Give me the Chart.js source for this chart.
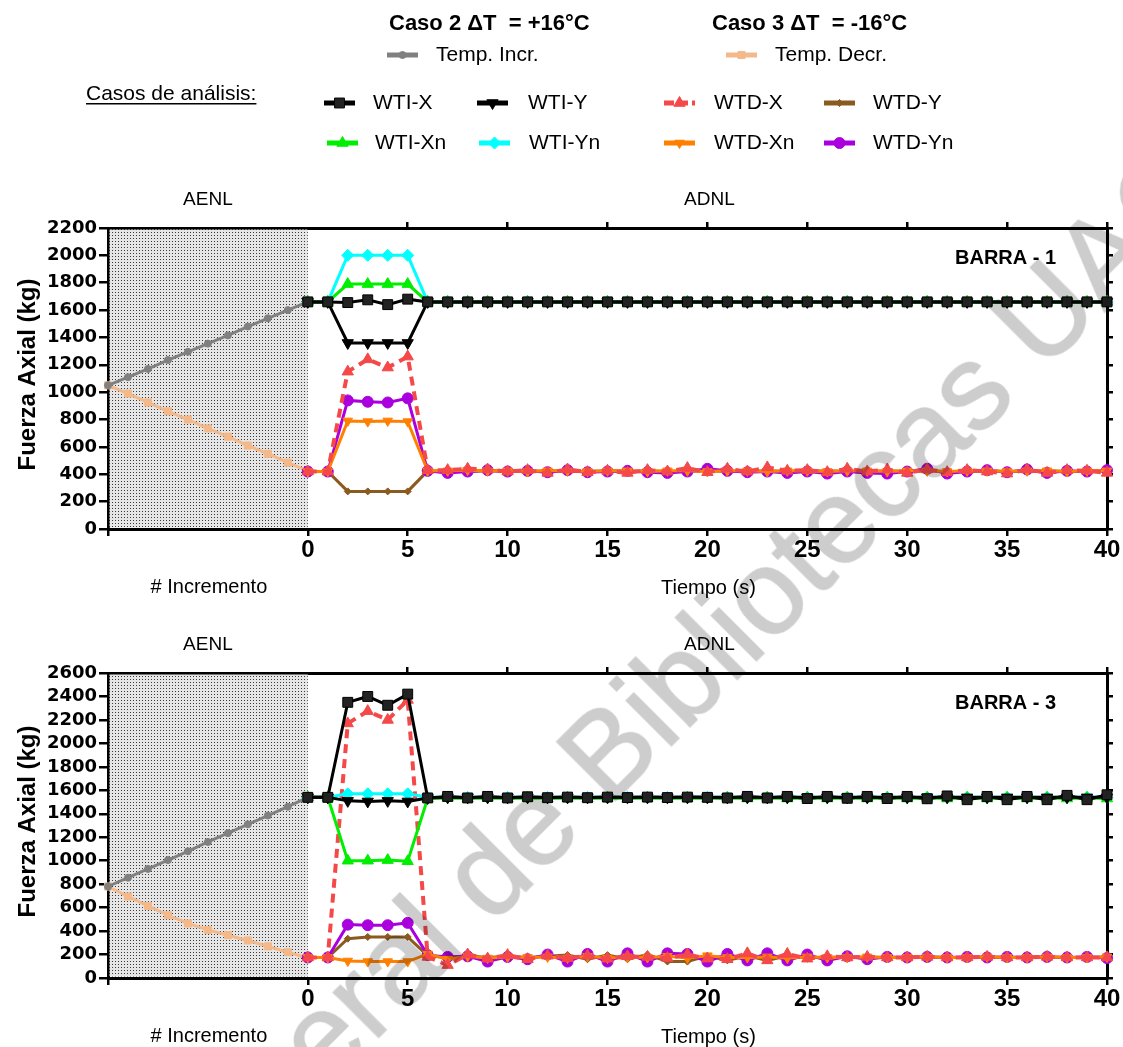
<!DOCTYPE html>
<html>
<head>
<meta charset="utf-8">
<title>Fuerza Axial - Barras 1 y 3</title>
<script src="https://cdn.jsdelivr.net/npm/chart.js@4.4.1/dist/chart.umd.min.js"></script>
<style>
    html, body { margin: 0; padding: 0; background: #fff; overflow: hidden; }
    #wrap { position: relative; width: 1123px; height: 1047px; overflow: hidden; }
    #wrap canvas { position: absolute; left: 0; }
    #c1 { top: 0; }
    #c2 { top: 600px; }
    #marca {
        position: absolute; left: -212px; top: 1526px;
        font: 120px "Liberation Sans", Arial, sans-serif; line-height: 1;
        white-space: nowrap; color: #cdcdcd; -webkit-text-stroke: 1.5px #cdcdcd;
        transform-origin: 0 102px; transform: rotate(-45deg);
        mix-blend-mode: multiply; pointer-events: none;
    }
</style>
</head>
<body>
<div id="wrap">
    <canvas id="c1" width="1123" height="600"></canvas>
    <canvas id="c2" width="1123" height="447"></canvas>
    <div id="marca">Dirección General de Bibliotecas UAO</div>
</div>
<script>
    "use strict";

    // Eje X: incrementos (AENL) y tiempo (ADNL)
    var incremento = [-10, -9, -8, -7, -6, -5, -4, -3, -2, -1, 0];
    var tiempo = [0, 1, 2, 3, 4, 5, 6, 7, 8, 9, 10, 11, 12, 13, 14, 15, 16, 17, 18, 19, 20,
                  21, 22, 23, 24, 25, 26, 27, 28, 29, 30, 31, 32, 33, 34, 35, 36, 37, 38, 39, 40];
    var ticksX = [-10, 0, 5, 10, 15, 20, 25, 30, 35, 40];
    var ticksXArriba = [5, 10, 15, 20, 25, 30, 35, 40];
    var ticksY1 = [0, 200, 400, 600, 800, 1000, 1200, 1400, 1600, 1800, 2000, 2200];
    var ticksY3 = [0, 200, 400, 600, 800, 1000, 1200, 1400, 1600, 1800, 2000, 2200, 2400, 2600];

    // BARRA - 1
    var b1TempIncr = [1050, 1110, 1170, 1235, 1295, 1355, 1415, 1480, 1540, 1600, 1660];
    var b1TempDecr = [1050, 990, 925, 860, 800, 735, 675, 610, 550, 485, 425];
    var b1WTIX  = [1660, 1660, 1655, 1675, 1640, 1680, 1660, 1660, 1660, 1660, 1660, 1660, 1660, 1660, 1660, 1660, 1660,
                   1660, 1660, 1660, 1660, 1660, 1660, 1660, 1660, 1660, 1660, 1660, 1660, 1660, 1660, 1660, 1660, 1660,
                   1660, 1660, 1660, 1660, 1660, 1660, 1660];
    var b1WTIY  = [1660, 1660, 1360, 1360, 1360, 1360, 1660, 1660, 1660, 1660, 1660, 1660, 1660, 1660, 1660, 1660, 1660,
                   1660, 1660, 1660, 1660, 1660, 1660, 1660, 1660, 1660, 1660, 1660, 1660, 1660, 1660, 1660, 1660, 1660,
                   1660, 1660, 1660, 1660, 1660, 1660, 1660];
    var b1WTIXn = [1660, 1660, 1790, 1790, 1790, 1790, 1660, 1660, 1660, 1660, 1660, 1660, 1660, 1660, 1660, 1660, 1660,
                   1660, 1660, 1660, 1660, 1660, 1660, 1660, 1660, 1660, 1660, 1660, 1660, 1660, 1660, 1660, 1660, 1660,
                   1660, 1660, 1660, 1660, 1660, 1660, 1660];
    var b1WTIYn = [1660, 1660, 2000, 2000, 2000, 2000, 1660, 1660, 1660, 1660, 1660, 1660, 1660, 1660, 1660, 1660, 1660,
                   1660, 1660, 1660, 1660, 1660, 1660, 1660, 1660, 1660, 1660, 1660, 1660, 1660, 1660, 1660, 1660, 1660,
                   1660, 1660, 1660, 1660, 1660, 1660, 1660];
    var b1WTDX  = [420, 420, 1150, 1240, 1180, 1260, 430, 430, 440, 435, 420, 430, 410, 435, 415, 425, 410,
                   430, 420, 445, 415, 440, 420, 450, 425, 430, 415, 440, 420, 435, 410, 435, 415, 430,
                   420, 405, 435, 410, 430, 425, 410];
    var b1WTDY  = [420, 420, 275, 275, 275, 275, 425, 420, 420, 425, 420, 420, 425, 420, 420, 425, 420,
                   425, 420, 420, 425, 420, 420, 425, 420, 420, 425, 420, 420, 425, 420, 425, 420, 420,
                   425, 420, 420, 425, 420, 420, 425];
    var b1WTDXn = [420, 420, 790, 785, 790, 785, 425, 425, 430, 425, 425, 420, 425, 425, 420, 425, 425,
                   420, 425, 425, 420, 425, 425, 420, 425, 425, 420, 425, 425, 420, 425, 425, 420, 425,
                   425, 420, 425, 425, 420, 425, 425];
    var b1WTDYn = [420, 420, 940, 930, 925, 955, 425, 410, 420, 430, 420, 425, 415, 430, 415, 420, 425,
                   415, 410, 420, 440, 425, 415, 420, 410, 420, 405, 420, 410, 405, 420, 440, 405, 420,
                   430, 415, 435, 410, 425, 420, 430];

    // BARRA - 3
    var b3TempIncr = [780, 855, 930, 1005, 1080, 1160, 1235, 1310, 1385, 1460, 1540];
    var b3TempDecr = [780, 695, 615, 535, 465, 410, 365, 320, 270, 220, 170];
    var b3WTIX  = [1540, 1540, 2350, 2400, 2325, 2420, 1535, 1548, 1535, 1548, 1535, 1545, 1537, 1542, 1537, 1542, 1538,
                   1542, 1538, 1542, 1540, 1535, 1548, 1535, 1548, 1530, 1548, 1532, 1548, 1530, 1548, 1528, 1552, 1520,
                   1548, 1520, 1548, 1520, 1557, 1520, 1562];
    var b3WTIY  = [1540, 1540, 1510, 1505, 1510, 1505, 1535, 1540, 1540, 1540, 1540, 1540, 1540, 1540, 1540, 1540, 1540,
                   1540, 1540, 1540, 1540, 1540, 1540, 1540, 1540, 1540, 1540, 1540, 1540, 1540, 1540, 1540, 1540, 1540,
                   1540, 1540, 1540, 1540, 1540, 1540, 1540];
    var b3WTIXn = [1540, 1540, 1000, 1000, 1005, 995, 1530, 1535, 1530, 1535, 1530, 1535, 1530, 1535, 1530, 1535, 1530,
                   1535, 1530, 1535, 1530, 1535, 1530, 1535, 1530, 1535, 1530, 1535, 1530, 1535, 1530, 1535, 1530, 1535,
                   1530, 1535, 1530, 1535, 1530, 1535, 1530];
    var b3WTIYn = [1540, 1540, 1570, 1570, 1570, 1570, 1540, 1540, 1540, 1540, 1540, 1540, 1540, 1540, 1540, 1540, 1540,
                   1540, 1540, 1540, 1540, 1540, 1540, 1540, 1540, 1540, 1540, 1540, 1540, 1540, 1540, 1540, 1540, 1540,
                   1540, 1540, 1540, 1540, 1540, 1540, 1540];
    var b3WTDX  = [175, 175, 2170, 2275, 2200, 2370, 180, 110, 200, 165, 195, 160, 190, 170, 190, 165, 185,
                   180, 170, 200, 165, 160, 210, 150, 205, 165, 185, 175, 180, 175, 175, 180, 175, 175,
                   180, 175, 175, 180, 175, 175, 175];
    var b3WTDY  = [175, 175, 335, 350, 350, 350, 190, 175, 190, 175, 185, 175, 185, 195, 160, 195, 160,
                   200, 140, 140, 190, 150, 190, 150, 190, 170, 180, 175, 180, 175, 175, 180, 175, 175,
                   180, 175, 175, 180, 175, 175, 180];
    var b3WTDXn = [175, 175, 145, 140, 140, 140, 205, 160, 185, 170, 180, 175, 180, 170, 185, 170, 180,
                   175, 185, 170, 190, 175, 175, 180, 170, 180, 175, 175, 180, 175, 175, 180, 175, 175,
                   180, 175, 175, 180, 175, 175, 180];
    var b3WTDYn = [175, 175, 455, 450, 450, 470, 195, 180, 185, 140, 180, 160, 200, 140, 205, 140, 210,
                   140, 210, 205, 140, 205, 150, 210, 150, 200, 150, 185, 160, 180, 175, 180, 175, 180,
                   175, 180, 175, 180, 175, 180, 170];


    // Estilos de cada serie
    var estilos = {
        'WTI-X':       {color: '#000000', fill: '#222222', punto: 'rect',     r: 7,   rot: 0,   w: 3},
        'WTI-Y':       {color: '#000000', fill: '#000000', punto: 'triangle', r: 6.5, rot: 180, w: 3},
        'WTI-Xn':      {color: '#00ee00', fill: '#00ee00', punto: 'triangle', r: 6.5, rot: 0,   w: 3},
        'WTI-Yn':      {color: '#00ffff', fill: '#00ffff', punto: 'rectRot',  r: 6,   rot: 0,   w: 3},
        'WTD-X':       {color: '#f54848', fill: '#f54848', punto: 'triangle', r: 6.5, rot: 0,   w: 4, dash: [9, 6]},
        'WTD-Y':       {color: '#8b5a1e', fill: '#8b5a1e', punto: 'rectRot',  r: 3.5, rot: 0,   w: 3},
        'WTD-Xn':      {color: '#ff8000', fill: '#ff8000', punto: 'triangle', r: 5.5, rot: 180, w: 3},
        'WTD-Yn':      {color: '#aa00dd', fill: '#aa00dd', punto: 'circle',   r: 5.5, rot: 0,   w: 3},
        'Temp. Incr.': {color: '#808080', fill: '#808080', punto: 'circle',   r: 3.5, rot: 0,   w: 3},
        'Temp. Decr.': {color: '#f3b98a', fill: '#f3b98a', punto: 'rect',     r: 5,   rot: 0,   w: 3}
    };

    Chart.defaults.font.family = '"Liberation Sans", Arial, sans-serif';
    Chart.defaults.color = '#000';

    function serie(nombre, xs, ys) {
        var e = estilos[nombre];
        return {
            label: nombre,
            data: xs.map(function (x, i) { return {x: x, y: ys[i]}; }),
            borderColor: e.color,
            backgroundColor: e.fill,
            borderWidth: e.w,
            borderDash: e.dash || [],
            pointStyle: e.punto,
            pointRadius: e.r,
            pointRotation: e.rot,
            pointBackgroundColor: e.fill,
            pointBorderColor: e.color,
            pointBorderWidth: 1,
            tension: 0,
            clip: false
        };
    }

    // Trama punteada de la zona AENL
    function trama(ctx) {
        var t = document.createElement('canvas');
        t.width = 3; t.height = 3;
        var c = t.getContext('2d');
        c.fillStyle = '#e6e6e6';
        c.fillRect(0, 0, 3, 3);
        c.fillStyle = '#3a3a3a';
        c.fillRect(1, 1, 1, 1);
        return ctx.createPattern(t, 'repeat');
    }

    function marcador(ctx, nombre, x0, y) {
        var e = estilos[nombre];
        ctx.save();
        ctx.strokeStyle = e.color;
        ctx.lineWidth = 5;
        ctx.setLineDash(e.dash ? [10, 4] : []);
        ctx.beginPath();
        ctx.moveTo(x0, y);
        ctx.lineTo(x0 + 31, y);
        ctx.stroke();
        ctx.setLineDash([]);
        ctx.fillStyle = e.fill;
        ctx.lineWidth = 1;
        Chart.helpers.drawPoint(ctx, {pointStyle: e.punto, radius: e.r, rotation: e.rot, borderWidth: 1}, x0 + 15.5, y);
        ctx.restore();
    }

    var leyenda = [
        ['Temp. Incr.', 387, 436, 55], ['Temp. Decr.', 726, 775, 55],
        ['WTI-X', 324, 373, 103], ['WTI-Y', 477, 528, 103], ['WTD-X', 664, 714, 103], ['WTD-Y', 824, 873, 103],
        ['WTI-Xn', 327, 375, 143], ['WTI-Yn', 479, 529, 143], ['WTD-Xn', 664, 714, 143], ['WTD-Yn', 824, 873, 143]
    ];

    var decor = {
        id: 'decor',
        beforeDatasetsDraw: function (chart) {
            var ctx = chart.ctx, a = chart.chartArea, x = chart.scales.x;
            var x0 = x.getPixelForValue(-10) + 1.5, x1 = x.getPixelForValue(0);
            ctx.save();
            ctx.fillStyle = trama(ctx);
            ctx.fillRect(x0, a.top + 1.5, x1 - x0, a.bottom - a.top - 3);
            ctx.restore();
        },
        afterDraw: function (chart, args, o) {
            var ctx = chart.ctx, a = chart.chartArea, x = chart.scales.x;
            var xA = (x.getPixelForValue(-10) + x.getPixelForValue(0)) / 2;
            var xD = (x.getPixelForValue(0) + x.getPixelForValue(40)) / 2;
            ctx.save();
            ctx.fillStyle = '#000';
            ctx.textBaseline = 'middle';
            ctx.textAlign = 'center';
            ctx.font = '19px "Liberation Sans", Arial, sans-serif';
            ctx.fillText('AENL', xA, a.top - 28);
            ctx.fillText('ADNL', xD + 2, a.top - 28);
            ctx.font = '20px "Liberation Sans", Arial, sans-serif';
            ctx.fillText('# Incremento', xA + 1, a.bottom + 58);
            ctx.fillText('Tiempo (s)', xD + 1, a.bottom + 59);
            ctx.textAlign = 'left';
            ctx.font = 'bold 20px "Liberation Sans", Arial, sans-serif';
            ctx.fillText(o.barra, 955, a.top + 30);

            ctx.save();
            ctx.translate(28, (a.top + a.bottom) / 2 - 4);
            ctx.rotate(-Math.PI / 2);
            ctx.textAlign = 'center';
            ctx.font = 'bold 24px "Liberation Sans", Arial, sans-serif';
            ctx.fillText('Fuerza Axial (kg)', 0, 0);
            ctx.restore();

            if (o.leyenda) {
                ctx.textAlign = 'left';
                ctx.font = 'bold 22px "Liberation Sans", Arial, sans-serif';
                ctx.fillText('Caso 2 \u0394T  = +16°C', 389, 24);
                ctx.fillText('Caso 3 \u0394T  = -16°C', 712, 24);
                ctx.font = '21px "Liberation Sans", Arial, sans-serif';
                ctx.fillText('Casos de análisis:', 86, 94);
                var w = ctx.measureText('Casos de análisis:').width;
                ctx.fillRect(86, 103, w, 1.5);
                leyenda.forEach(function (l) {
                    marcador(ctx, l[0], l[1], l[3]);
                    ctx.fillStyle = '#000';
                    ctx.fillText(l[0], l[2], l[3]);
                });
            }
            ctx.restore();
        }
    };

    function ejeX(pos, ticks, alto, largo) {
        return {
            type: 'linear', position: pos, min: -10, max: 40,
            afterBuildTicks: function (s) { s.ticks = ticks.map(function (v) { return {value: v}; }); },
            afterFit: function (s) { s.height = alto; },
            ticks: {
                display: pos === 'bottom', autoSkip: false, maxRotation: 0, padding: 0, color: '#000',
                font: {size: 24, weight: 'bold'},
                callback: function (v) { return v < 0 ? '' : String(v); }
            },
            grid: {drawOnChartArea: false, color: '#000', lineWidth: 2.5, tickLength: largo},
            border: {color: '#000', width: 3}
        };
    }

    function ejeY(pos, ticks, ancho, largo) {
        return {
            type: 'linear', position: pos, min: 0, max: ticks[ticks.length - 1],
            afterBuildTicks: function (s) { s.ticks = ticks.map(function (v) { return {value: v}; }); },
            afterFit: function (s) { s.width = ancho; },
            ticks: {
                display: pos === 'left', autoSkip: false, padding: 2, color: '#000',
                font: {family: '"DejaVu Sans", sans-serif', size: 18, weight: 'bold'},
                callback: function (v) { return String(v); }
            },
            grid: {drawOnChartArea: false, color: '#000', lineWidth: 2.5, tickLength: largo},
            border: {color: '#000', width: 3}
        };
    }

    function panel(id, series, ticksY, barra, padTop, altoX, conLeyenda) {
        var ctx = document.getElementById(id).getContext('2d');
        return new Chart(ctx, {
            type: 'line',
            data: {
                datasets: [
                    serie('WTI-X', tiempo, series.wtix),
                    serie('WTI-Y', tiempo, series.wtiy),
                    serie('WTI-Xn', tiempo, series.wtixn),
                    serie('WTI-Yn', tiempo, series.wtiyn),
                    serie('WTD-X', tiempo, series.wtdx),
                    serie('WTD-Xn', tiempo, series.wtdxn),
                    serie('WTD-Yn', tiempo, series.wtdyn),
                    serie('WTD-Y', tiempo, series.wtdy),
                    serie('Temp. Incr.', incremento, series.incr),
                    serie('Temp. Decr.', incremento, series.decr)
                ]
            },
            options: {
                responsive: false,
                animation: false,
                layout: {padding: {top: padTop, left: 0, right: 10, bottom: 0}},
                scales: {
                    x: ejeX('bottom', ticksX, altoX, 7),
                    xArriba: ejeX('top', ticksXArriba, 6, 6),
                    y: ejeY('left', ticksY, 108, 9),
                    yDer: ejeY('right', ticksY, 6, 6)
                },
                plugins: {
                    legend: {display: false},
                    tooltip: {enabled: false},
                    decor: {barra: barra, leyenda: conLeyenda}
                }
            },
            plugins: [decor]
        });
    }

    panel('c1', {
        wtix: b1WTIX, wtiy: b1WTIY, wtixn: b1WTIXn, wtiyn: b1WTIYn,
        wtdx: b1WTDX, wtdy: b1WTDY, wtdxn: b1WTDXn, wtdyn: b1WTDYn,
        incr: b1TempIncr, decr: b1TempDecr
    }, ticksY1, 'BARRA - 1', 222, 71, true);

    panel('c2', {
        wtix: b3WTIX, wtiy: b3WTIY, wtixn: b3WTIXn, wtiyn: b3WTIYn,
        wtdx: b3WTDX, wtdy: b3WTDY, wtdxn: b3WTDXn, wtdyn: b3WTDYn,
        incr: b3TempIncr, decr: b3TempDecr
    }, ticksY3, 'BARRA - 3', 67, 69, false);
</script>
</body>
</html>
